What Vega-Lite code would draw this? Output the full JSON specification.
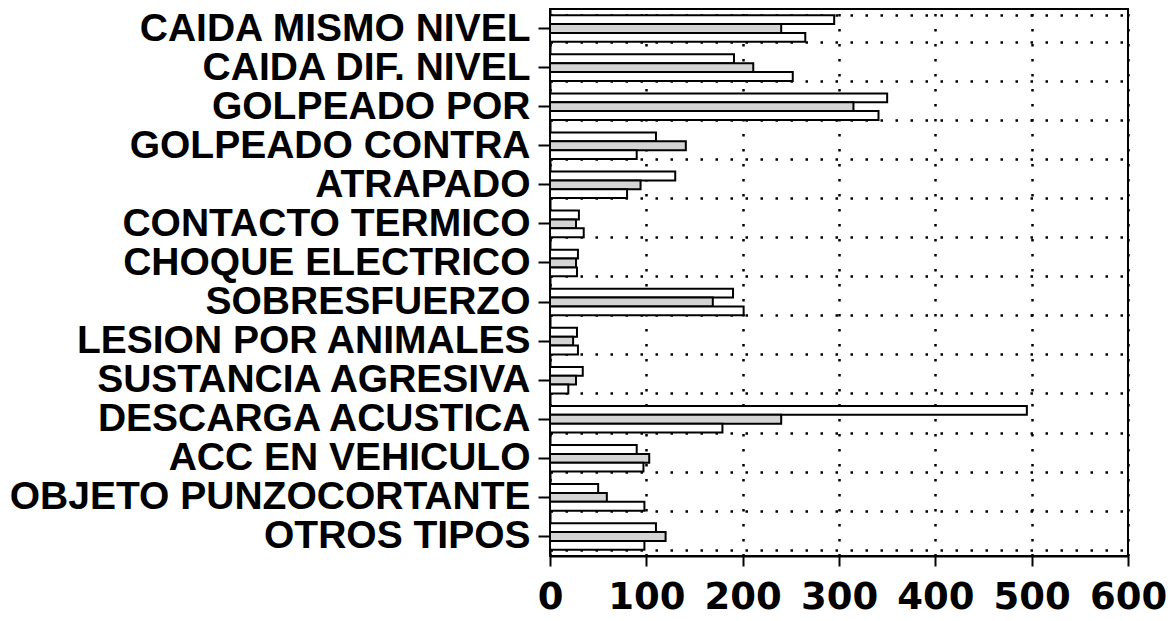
{
  "$schema": "https://vega.github.io/schema/vega-lite/v6.json",
  "width": 578,
  "height": 547,
  "autosize": "none",
  "padding": {"left": 550, "top": 9, "right": 40, "bottom": 65},
  "background": "white",
  "config": {
    "view": {"stroke": "black", "strokeWidth": 2},
    "axis": {
      "labelFont": "DejaVu Sans",
      "labelFontWeight": "bold",
      "labelColor": "black",
      "labelLimit": 0,
      "domainColor": "black",
      "domainWidth": 2,
      "tickColor": "black",
      "tickWidth": 2,
      "gridColor": "black",
      "gridDash": [2.5, 12.5],
      "gridWidth": 2.5,
      "gridOpacity": 1
    }
  },
  "data": {
    "values": [
      {"tipo": "CAIDA MISMO NIVEL", "serie": "Serie 1", "valor": 295},
      {"tipo": "CAIDA MISMO NIVEL", "serie": "Serie 2", "valor": 240},
      {"tipo": "CAIDA MISMO NIVEL", "serie": "Serie 3", "valor": 265},
      {"tipo": "CAIDA DIF. NIVEL", "serie": "Serie 1", "valor": 191},
      {"tipo": "CAIDA DIF. NIVEL", "serie": "Serie 2", "valor": 211},
      {"tipo": "CAIDA DIF. NIVEL", "serie": "Serie 3", "valor": 252},
      {"tipo": "GOLPEADO POR", "serie": "Serie 1", "valor": 350},
      {"tipo": "GOLPEADO POR", "serie": "Serie 2", "valor": 315},
      {"tipo": "GOLPEADO POR", "serie": "Serie 3", "valor": 341},
      {"tipo": "GOLPEADO CONTRA", "serie": "Serie 1", "valor": 110},
      {"tipo": "GOLPEADO CONTRA", "serie": "Serie 2", "valor": 141},
      {"tipo": "GOLPEADO CONTRA", "serie": "Serie 3", "valor": 90},
      {"tipo": "ATRAPADO", "serie": "Serie 1", "valor": 130},
      {"tipo": "ATRAPADO", "serie": "Serie 2", "valor": 94},
      {"tipo": "ATRAPADO", "serie": "Serie 3", "valor": 80},
      {"tipo": "CONTACTO TERMICO", "serie": "Serie 1", "valor": 30},
      {"tipo": "CONTACTO TERMICO", "serie": "Serie 2", "valor": 27},
      {"tipo": "CONTACTO TERMICO", "serie": "Serie 3", "valor": 35},
      {"tipo": "CHOQUE ELECTRICO", "serie": "Serie 1", "valor": 29},
      {"tipo": "CHOQUE ELECTRICO", "serie": "Serie 2", "valor": 27},
      {"tipo": "CHOQUE ELECTRICO", "serie": "Serie 3", "valor": 28},
      {"tipo": "SOBRESFUERZO", "serie": "Serie 1", "valor": 190},
      {"tipo": "SOBRESFUERZO", "serie": "Serie 2", "valor": 169},
      {"tipo": "SOBRESFUERZO", "serie": "Serie 3", "valor": 201},
      {"tipo": "LESION POR ANIMALES", "serie": "Serie 1", "valor": 28},
      {"tipo": "LESION POR ANIMALES", "serie": "Serie 2", "valor": 24},
      {"tipo": "LESION POR ANIMALES", "serie": "Serie 3", "valor": 29},
      {"tipo": "SUSTANCIA AGRESIVA", "serie": "Serie 1", "valor": 34},
      {"tipo": "SUSTANCIA AGRESIVA", "serie": "Serie 2", "valor": 27},
      {"tipo": "SUSTANCIA AGRESIVA", "serie": "Serie 3", "valor": 19},
      {"tipo": "DESCARGA ACUSTICA", "serie": "Serie 1", "valor": 495},
      {"tipo": "DESCARGA ACUSTICA", "serie": "Serie 2", "valor": 240},
      {"tipo": "DESCARGA ACUSTICA", "serie": "Serie 3", "valor": 179},
      {"tipo": "ACC EN VEHICULO", "serie": "Serie 1", "valor": 90},
      {"tipo": "ACC EN VEHICULO", "serie": "Serie 2", "valor": 103},
      {"tipo": "ACC EN VEHICULO", "serie": "Serie 3", "valor": 97},
      {"tipo": "OBJETO PUNZOCORTANTE", "serie": "Serie 1", "valor": 50},
      {"tipo": "OBJETO PUNZOCORTANTE", "serie": "Serie 2", "valor": 59},
      {"tipo": "OBJETO PUNZOCORTANTE", "serie": "Serie 3", "valor": 98},
      {"tipo": "OTROS TIPOS", "serie": "Serie 1", "valor": 110},
      {"tipo": "OTROS TIPOS", "serie": "Serie 2", "valor": 120},
      {"tipo": "OTROS TIPOS", "serie": "Serie 3", "valor": 98}
    ]
  },
  "layer": [
    {
      "mark": {"type": "bar", "stroke": "black", "strokeWidth": 2},
      "encoding": {
        "y": {
          "field": "tipo", "type": "nominal", "sort": null, "title": null,
          "scale": {"paddingInner": 0.32, "paddingOuter": 0.16},
          "axis": {"orient": "left", "grid": true, "tickBand": "extent", "labels": false, "ticks": false, "domain": true}
        },
        "yOffset": {"field": "serie", "type": "nominal", "scale": {"paddingInner": 0, "paddingOuter": 0}},
        "x": {
          "field": "valor", "type": "quantitative", "title": null,
          "scale": {"domain": [0, 600], "nice": false},
          "axis": {"values": [0, 100, 200, 300, 400, 500, 600], "grid": true, "tickSize": 10, "labelFontSize": 37, "labelPadding": 13, "labelFlush": false}
        },
        "fill": {
          "field": "serie", "type": "nominal", "legend": null,
          "scale": {"domain": ["Serie 1", "Serie 2", "Serie 3"], "range": ["white", "#d4d4d4", "white"]}
        }
      }
    },
    {
      "mark": {"type": "point", "opacity": 0},
      "encoding": {
        "y": {
          "field": "tipo", "type": "nominal", "sort": null, "title": null,
          "axis": {"orient": "left", "grid": false, "tickSize": 12, "labelFont": "Liberation Sans", "labelFontSize": 39, "labelPadding": 8, "domain": false}
        },
        "x": {"field": "valor", "type": "quantitative"}
      }
    }
  ],
  "resolve": {"axis": {"y": "independent"}}
}
